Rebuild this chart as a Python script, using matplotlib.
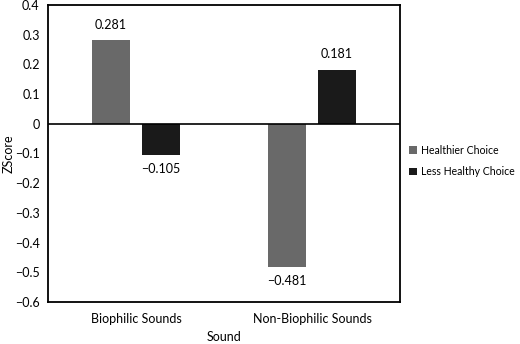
import matplotlib.pyplot as plt
import numpy as np
from matplotlib.ticker import FuncFormatter

categories = ['Biophilic Sounds', 'Non-Biophilic Sounds']
healthier = [0.281, -0.481]
less_healthy = [-0.105, 0.181]
series_names = ['Healthier Choice', 'Less Healthy Choice']

plt.rcParams['font.family'] = ['Lato', 'DejaVu Sans']

fig = plt.figure(figsize=(5.2, 3.44), dpi=100)
ax = fig.add_axes([48 / 520, 1 - 302 / 344, 352 / 520, 297 / 344])

x = np.arange(len(categories))
w = 0.22
off = 0.142
b1 = ax.bar(x - off, healthier, w, color='#696969', label=series_names[0])
b2 = ax.bar(x + off, less_healthy, w, color='#1a1a1a', label=series_names[1])

ax.axhline(0, color='black', linewidth=1.2)
ax.set_xlim(-0.5, 1.5)
ax.set_ylim(-0.6, 0.4)
ax.set_yticks(np.round(np.arange(-0.6, 0.41, 0.1), 1))


def fmt(v, pos):
    if abs(v) < 1e-9:
        return '0'
    s = '{:.1f}'.format(abs(v))
    return ('\u2212' if v < 0 else '') + s


ax.yaxis.set_major_formatter(FuncFormatter(fmt))
ax.set_xticks(x)
ax.set_xticklabels(categories, fontsize=8.5)
ax.tick_params(axis='both', length=0, labelsize=9, colors='black')
ax.tick_params(axis='x', pad=8)
ax.tick_params(axis='y', pad=6)

for sp in ax.spines.values():
    sp.set_linewidth(1.3)
    sp.set_color('black')

for bars, vals in [(b1, healthier), (b2, less_healthy)]:
    for rect, v in zip(bars, vals):
        cx = rect.get_x() + rect.get_width() / 2
        txt = '{:.3f}'.format(abs(v))
        if v < 0:
            ax.annotate('\u2212' + txt, (cx, v), xytext=(0, -6), textcoords='offset points',
                        ha='center', va='top', fontsize=9)
        else:
            ax.annotate(txt, (cx, v), xytext=(0, 7), textcoords='offset points',
                        ha='center', va='bottom', fontsize=9)

ax.set_ylabel('ZScore', fontsize=9, labelpad=0)
ax.set_xlabel('Sound', fontsize=9, labelpad=4)

fig.legend(handles=[b1, b2], labels=series_names, loc='center left',
           bbox_to_anchor=(409 / 520, 1 - 161 / 344), frameon=False, fontsize=7.6,
           borderpad=0, borderaxespad=0,
           handlelength=0.75, handleheight=0.75, handletextpad=0.35, labelspacing=1.0)

fig.savefig('out.png', dpi=100)
